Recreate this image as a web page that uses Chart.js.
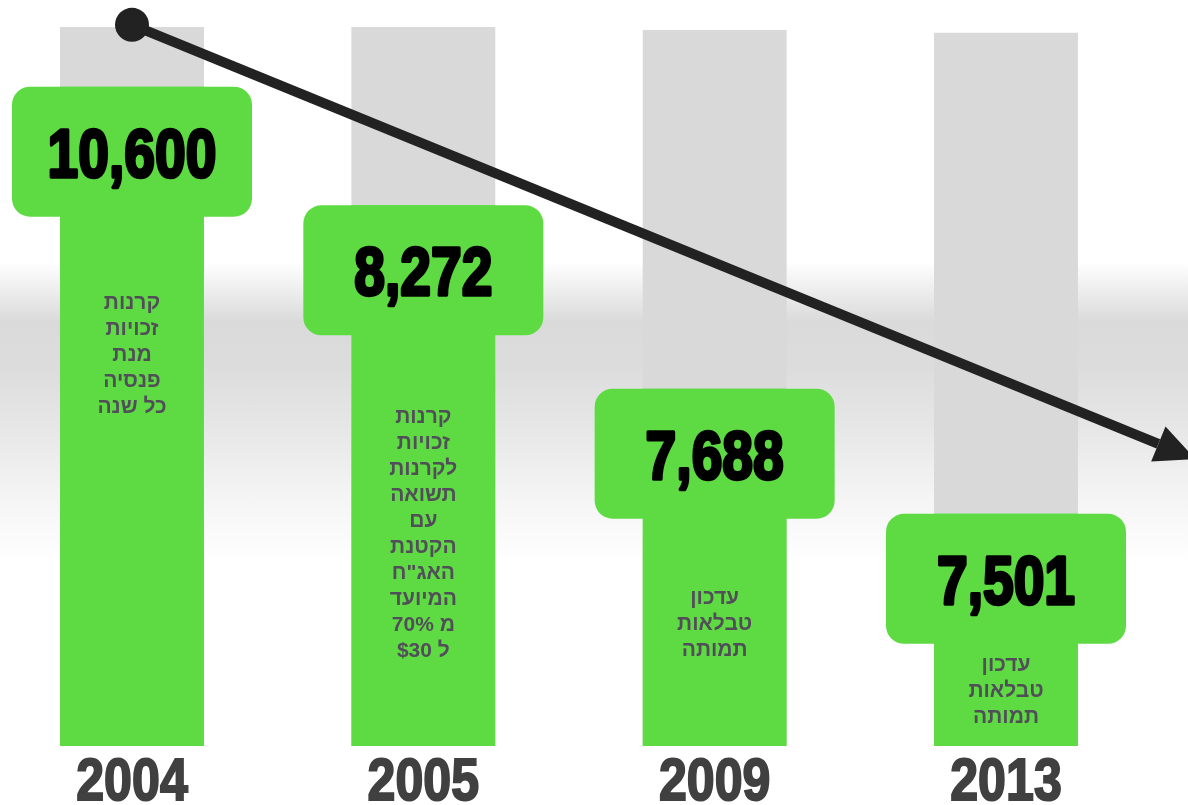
<!DOCTYPE html>
<html>
<head>
<meta charset="utf-8">
<script src="https://cdn.jsdelivr.net/npm/chart.js@4"></script>
<style>
    html, body { margin: 0; padding: 0; }
    body {
        width: 1188px;
        height: 805px;
        background: linear-gradient(to bottom, #fff 0px, #fff 262px, #dadada 322px, #dcdcdc 365px, #e7e7e7 430px, #f4f4f4 495px, #fff 565px, #fff 805px);
    }
    #wrap { position: relative; width: 1188px; height: 805px; }
</style>
</head>
<body>
<div id="wrap"><canvas id="pensionChart"></canvas></div>
<script>
const years = ["2004", "2005", "2009", "2013"];
const amounts = [10600, 8272, 7688, 7501];
// green column height as % of the grey column
const barLevels = [91.7, 75.2, 49.7, 32.3];
const fullLevels = [100, 100, 99.6, 99.2];
const notes = [
    ["קרנות", "זכויות", "מנת", "פנסיה", "כל שנה"],
    ["קרנות", "זכויות", "לקרנות", "תשואה", "עם", "הקטנת", "האג\"ח", "המיועד", "מ 70%", "ל $30"],
    ["עדכון", "טבלאות", "תמותה"],
    ["עדכון", "טבלאות", "תמותה"]
];

const green = "#5edb43";
const boxW = 240, boxH = 130;
const noteGap = [87, 82, 80, 21]; // distance from box bottom to first note line

const labelsPlugin = {
    id: "labels",
    afterDatasetsDraw(chart) {
        const ctx = chart.ctx;
        const xs = chart.scales.x, ys = chart.scales.y;
        const bars = chart.getDatasetMeta(0).data;

        // trend arrow
        const x0 = xs.getPixelForValue(0), y0 = ys.getPixelForValue(100.3);
        const x1 = xs.getPixelForValue(3.65), y1 = ys.getPixelForValue(39.9);
        const len = Math.hypot(x1 - x0, y1 - y0);
        const ux = (x1 - x0) / len, uy = (y1 - y0) / len;
        const bx = x1 - ux * 40, by = y1 - uy * 40;
        ctx.save();
        ctx.strokeStyle = "#222";
        ctx.fillStyle = "#222";
        ctx.lineWidth = 10;
        ctx.beginPath();
        ctx.moveTo(x0, y0);
        ctx.lineTo(bx, by);
        ctx.stroke();
        ctx.beginPath();
        ctx.moveTo(x1, y1);
        ctx.lineTo(bx - uy * 19, by + ux * 19);
        ctx.lineTo(bx + uy * 19, by - ux * 19);
        ctx.closePath();
        ctx.fill();
        ctx.beginPath();
        ctx.arc(x0, y0, 17, 0, Math.PI * 2);
        ctx.fill();
        ctx.restore();

        bars.forEach((bar, i) => {
            const x = bar.x, top = bar.y;

            // rounded value box
            ctx.save();
            ctx.fillStyle = green;
            ctx.beginPath();
            ctx.roundRect(x - boxW / 2, top, boxW, boxH, 18);
            ctx.fill();

            // amount
            ctx.translate(x, top + 90);
            ctx.scale(0.8, 1);
            ctx.font = 'bold 69px "Liberation Sans"';
            ctx.textAlign = "center";
            ctx.textBaseline = "alphabetic";
            ctx.fillStyle = "#000";
            ctx.strokeStyle = "#000";
            ctx.lineWidth = 3.5;
            ctx.lineJoin = "round";
            const txt = amounts[i].toLocaleString("en-US");
            ctx.strokeText(txt, 0, 0);
            ctx.fillText(txt, 0, 0);
            ctx.restore();

            // hebrew notes
            ctx.save();
            ctx.font = 'bold 21px "Liberation Sans"';
            ctx.direction = "rtl";
            ctx.textAlign = "center";
            ctx.textBaseline = "middle";
            ctx.fillStyle = "#524e59";
            notes[i].forEach((line, k) => {
                ctx.fillText(line, x, top + boxH + noteGap[i] + k * 26);
            });
            ctx.restore();

            // year
            ctx.save();
            ctx.translate(x, ys.bottom + 54);
            ctx.scale(0.85, 1);
            ctx.font = 'bold 59px "Liberation Sans"';
            ctx.textAlign = "center";
            ctx.textBaseline = "alphabetic";
            ctx.fillStyle = "#404040";
            ctx.strokeStyle = "#404040";
            ctx.lineWidth = 2;
            ctx.strokeText(years[i], 0, 0);
            ctx.fillText(years[i], 0, 0);
            ctx.restore();
        });
    }
};

new Chart(document.getElementById("pensionChart"), {
    type: "bar",
    data: {
        labels: years,
        datasets: [
            {
                data: barLevels,
                backgroundColor: green,
                grouped: false,
                order: 1,
                barPercentage: 0.494,
                categoryPercentage: 1,
                clip: false
            },
            {
                data: fullLevels,
                backgroundColor: "#d9d9d9",
                grouped: false,
                order: 2,
                barPercentage: 0.494,
                categoryPercentage: 1,
                clip: false
            }
        ]
    },
    options: {
        responsive: true,
        maintainAspectRatio: false,
        animation: false,
        layout: {
            padding: { left: 132, right: 182, top: 27, bottom: 59 }
        },
        scales: {
            x: { display: false, offset: false },
            y: { display: false, min: 0, max: 100 }
        },
        plugins: {
            legend: { display: false },
            tooltip: { enabled: false }
        }
    },
    plugins: [labelsPlugin]
});
</script>
</body>
</html>
